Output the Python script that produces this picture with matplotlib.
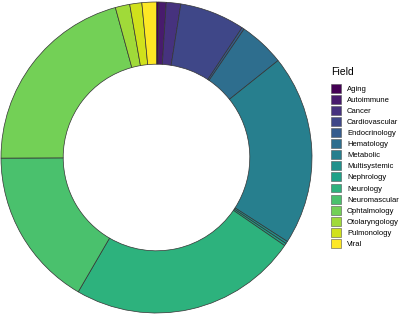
import matplotlib
matplotlib.use("Agg")
import matplotlib.pyplot as plt
import matplotlib.patches as mpatches
import numpy as np

fields = ["Aging", "Autoimmune", "Cancer", "Cardiovascular", "Endocrinology",
          "Hematology", "Metabolic", "Multisystemic", "Nephrology", "Neurology",
          "Neuromascular", "Ophtalmology", "Otolaryngology", "Pulmonology", "Viral"]
counts = [1, 3, 6, 27, 1, 19, 79, 1, 1, 95, 66, 83, 6, 5, 6]

plt.rcParams["font.family"] = ["Liberation Sans", "DejaVu Sans"]

colors = plt.cm.viridis(np.linspace(0, 1, len(fields)))

fig = plt.figure(figsize=(4.02, 3.15), dpi=100)

# donut centred at (156.5, 157.5) px, outer radius ~155.5 px
box = 320
ax = fig.add_axes([(156.5 - box/2)/402, (157.5 - box/2)/315, box/402, box/315])
ax.pie(counts, colors=colors, startangle=90, counterclock=False, radius=1,
       wedgeprops=dict(width=0.4, edgecolor="#333333", linewidth=0.5))
lim = box/2/155.5
ax.set_xlim(-lim, lim)
ax.set_ylim(-lim, lim)
ax.set_aspect("equal")
ax.axis("off")

fig.text(331/402, 1 - 72/315, "Field", fontsize=7.5, ha="left", va="center")

handles = [mpatches.Patch(facecolor=c, edgecolor="#555555", linewidth=0.4) for c in colors]
leg = fig.legend(handles, fields, loc="upper left",
                 bbox_to_anchor=(331/402, 1 - 84/315), frameon=False,
                 fontsize=5.5, handlelength=1.31, handleheight=1.42,
                 labelspacing=0.27, handletextpad=0.8, borderpad=0, borderaxespad=0)

fig.savefig("out.png", dpi=100)
